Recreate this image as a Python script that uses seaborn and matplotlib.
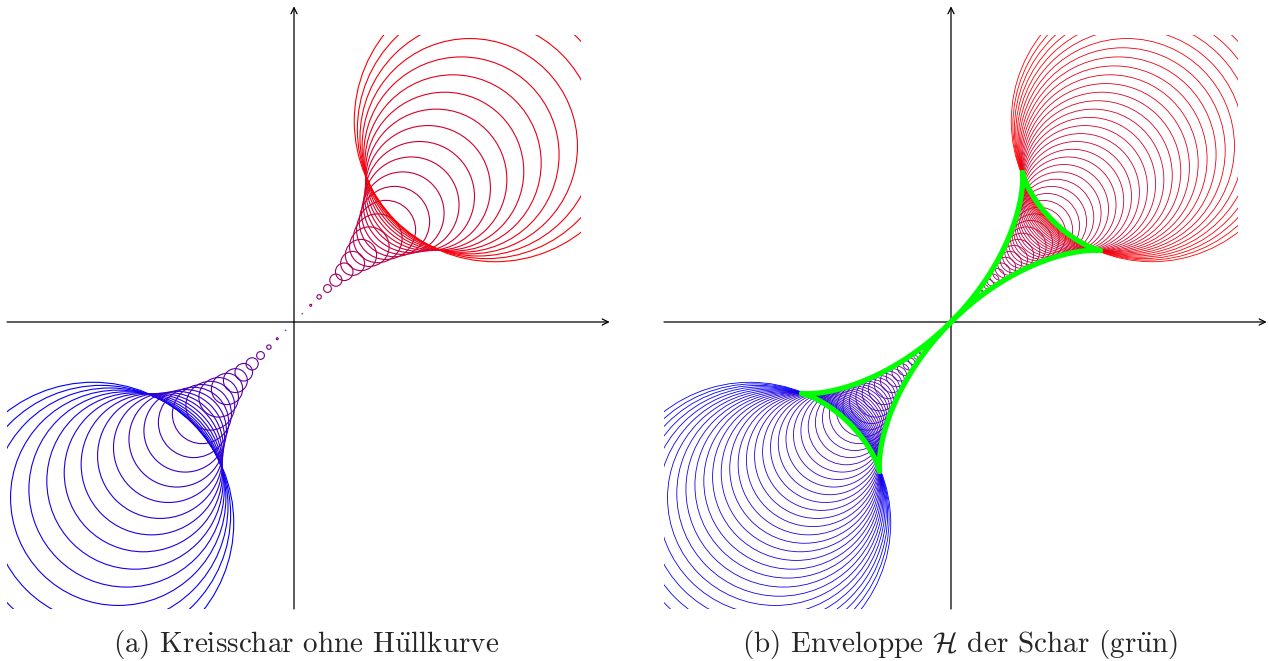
import numpy as np
import pandas as pd
import matplotlib.pyplot as plt
import seaborn as sns
from matplotlib.patches import Circle, Rectangle

# circle family k_t: centre (t, t), radius t^2, t in [-0.7, 0.7]
t_domain = [-0.7, 0.7]
samples = [49, 97]          # number of circles in panel (a) and (b)
clip_box = [-1.0, 1.0]      # circles are clipped to this square
axis_range = [-1.0, 1.1]    # axis arrows
captions = ["(a) Kreisschar ohne H$\\ddot{\\mathrm{u}}$llkurve",
            "(b) Enveloppe $\\mathcal{H}$ der Schar (gr$\\ddot{\\mathrm{u}}$n)"]

sns.set_theme(style="white")
plt.rcParams["mathtext.fontset"] = "cm"
plt.rcParams["font.family"] = ["cmr10", "DejaVu Serif"]
plt.rcParams["axes.unicode_minus"] = False

W, H = 1269, 661
scale = 287.0               # pixels per unit
origins = [(294, 322), (951, 322)]
lo, hi = -1.02, 1.12

fig = plt.figure(figsize=(W / 100, H / 100), dpi=100)


def mix(t):
    p = (t - t_domain[0]) / (t_domain[1] - t_domain[0])
    return (p, 0.0, 1.0 - p)


def envelope():
    # both branches of the envelope of the family
    tt = np.linspace(-1 / np.sqrt(2), 1 / np.sqrt(2), 600)
    psi = np.arccos(np.clip(-np.sqrt(2) * tt, -1, 1))
    rows = []
    for sign, name in [(1, "plus"), (-1, "minus")]:
        th = np.pi / 4 + sign * psi
        x = tt + tt ** 2 * np.cos(th)
        y = tt + tt ** 2 * np.sin(th)
        rows.append(pd.DataFrame({"x": x, "y": y, "branch": name, "order": np.arange(len(tt))}))
    return pd.concat(rows, ignore_index=True)


for i, (ox, oy) in enumerate(origins):
    left = (ox + lo * scale) / W
    bottom = (H - (oy - lo * scale)) / H
    size_w = (hi - lo) * scale / W
    size_h = (hi - lo) * scale / H
    ax = fig.add_axes([left, bottom, size_w, size_h])
    ax.set_xlim(lo, hi)
    ax.set_ylim(lo, hi)
    ax.axis("off")

    # axes with arrows
    for xy, xytext in [((axis_range[1], 0), (axis_range[0], 0)),
                       ((0, axis_range[1]), (0, axis_range[0]))]:
        ax.annotate("", xy=xy, xytext=xytext,
                    arrowprops=dict(arrowstyle="->", lw=0.9, color="black",
                                    shrinkA=0, shrinkB=0, mutation_scale=11),
                    zorder=1)

    clip = Rectangle((clip_box[0], clip_box[0]), clip_box[1] - clip_box[0],
                     clip_box[1] - clip_box[0], transform=ax.transData)
    ts = np.linspace(t_domain[0], t_domain[1], samples[i])
    lw = 0.8 if i == 0 else 0.6
    for t in ts:
        c = Circle((t, t), t ** 2, fill=False, edgecolor=mix(t), lw=lw, zorder=2)
        ax.add_patch(c)
        c.set_clip_path(clip)

    if i == 1:
        env = envelope()
        sns.lineplot(data=env, x="x", y="y", units="branch", estimator=None,
                     sort=False, color=(0, 1, 0), lw=3.8, ax=ax, zorder=3)
        ax.set_xlim(lo, hi)
        ax.set_ylim(lo, hi)
        ax.axis("off")

fig.text(306 / W, 1 - 652 / H, captions[0], ha="center", va="baseline", fontsize=21)
fig.text(960 / W, 1 - 652 / H, captions[1], ha="center", va="baseline", fontsize=21)

fig.savefig("out.png", dpi=100)
